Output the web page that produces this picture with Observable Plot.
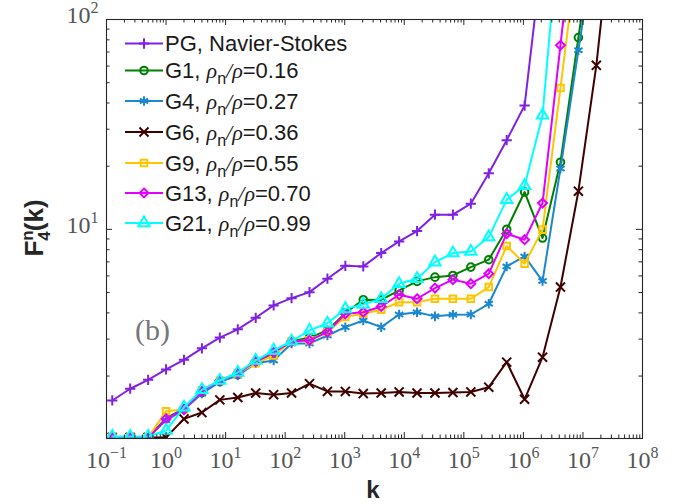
<!DOCTYPE html>
<html>
<head>
<meta charset="utf-8">
<script src="https://cdn.jsdelivr.net/npm/d3@7"></script>
<script src="https://cdn.jsdelivr.net/npm/@observablehq/plot@0.6"></script>
<style>
html,body{margin:0;padding:0;background:#fff;}
#wrap{position:relative;width:684px;height:504px;overflow:hidden;}
#wrap svg{display:block;}
#overlay{position:absolute;left:0;top:0;pointer-events:none;}
</style>
</head>
<body>
<div id="wrap"></div>
<script>
// wave numbers k (each step doubles)
const k = [0.125, 0.25, 0.5, 1, 2, 4, 8, 16, 32, 64, 128, 256, 512, 1024, 2048, 4096,
  8192, 16384, 32768, 65536, 131072, 262144, 524288, 1048576, 2097152, 4194304,
  8388608, 16777216, 33554432];

// F4^n(k) per series (values beyond 100 leave the frame)
const PG  = [1.53, 1.74, 1.92, 2.15, 2.39, 2.71, 3.05, 3.34, 3.79, 4.34, 4.70, 5.02, 5.82,
  6.70, 6.66, 7.71, 8.76, 9.81, 11.75, 11.75, 13.26, 18.5, 26.6, 38.9, 210];
const G1  = [1.02, 1.02, 1.02, 1.26, 1.40, 1.67, 1.88, 2.03, 2.32, 2.56, 2.92, 3.05, 3.30,
  4.00, 4.62, 4.61, 5.12, 5.65, 5.92, 6.03, 6.61, 7.17, 10.0, 15.06, 9.09, 20.9, 82.0, 321];
const G4  = [1.02, 1.02, 1.02, 1.23, 1.38, 1.65, 1.88, 2.01, 2.30, 2.37, 2.86, 2.86, 3.12,
  3.42, 3.68, 3.42, 3.93, 4.03, 3.85, 3.92, 3.93, 4.42, 6.66, 7.43, 5.67, 19.5, 71.4, 260];
const G6  = [1.02, 1.02, 1.02, 1.02, 1.25, 1.34, 1.54, 1.58, 1.66, 1.63, 1.66, 1.84, 1.69,
  1.69, 1.65, 1.66, 1.68, 1.66, 1.66, 1.67, 1.68, 1.77, 2.33, 1.55, 2.46, 5.31, 15.2, 60.5, 370];
const G9  = [1.02, 1.02, 1.02, 1.36, 1.385, 1.71, 1.905, 2.06, 2.30, 2.51, 2.92, 2.96, 3.24,
  3.82, 3.96, 4.14, 4.50, 4.50, 4.67, 4.67, 4.67, 5.31, 8.33, 6.86, 9.97, 47.2, 228];
const G13 = [1.01, 1.01, 1.01, 1.25, 1.385, 1.69, 1.905, 2.06, 2.35, 2.59, 2.92, 2.96, 3.24,
  3.96, 4.03, 4.29, 4.88, 4.67, 5.25, 5.76, 5.51, 6.15, 9.54, 8.93, 13.35, 75.4, 441];
const G21 = [1.03, 1.03, 1.03, 1.10, 1.42, 1.72, 1.905, 2.08, 2.37, 2.65, 2.93, 3.30, 3.57,
  4.18, 4.39, 4.67, 5.51, 5.82, 6.98, 7.71, 7.85, 9.19, 13.86, 16.12, 34.97, 330];

const seriesValues = [PG, G1, G4, G6, G9, G13, G21];
const seriesNames = ["PG, Navier-Stokes", "G1", "G4", "G6", "G9", "G13", "G21"];
const rhoRatios = [null, "0.16", "0.27", "0.36", "0.55", "0.70", "0.99"];
const colors = ["#8022e2", "#008000", "#1b87cf", "#3f0000", "#ffc600", "#e000ff", "#00ffff"];
const symbols = ["plus", "circle", "asterisk", "times", "square", "diamond2", "triangle"];
const radii = [3.4, 3.8, 4.5, 4.2, 3.7, 4.0, 4.2];

const xTickValues = [1e-1, 1e0, 1e1, 1e2, 1e3, 1e4, 1e5, 1e6, 1e7, 1e8];
const yTickValues = [10, 100];
const minorMultipliers = [2, 3, 4, 5, 6, 7, 8, 9];

const W = 684, H = 504, mL = 106, mR = 42, mT = 19, mB = 66;
const pw = W - mL - mR, ph = H - mT - mB;
const axisColor = "#262626";
const majLen = 6, minLen = 3.5;

const xMinor = xTickValues.slice(0, -1).flatMap(v => minorMultipliers.map(m => v * m));
const yMinor = [1, 10].flatMap(v => minorMultipliers.map(m => v * m));

const marks = [];
seriesValues.forEach((vals, i) => {
  const rows = vals.map((v, j) => ({k: k[j], v}));
  marks.push(Plot.line(rows, {x: "k", y: "v", stroke: colors[i], strokeWidth: 2, clip: true}));
  marks.push(Plot.dot(rows, {x: "k", y: "v", symbol: symbols[i], r: radii[i], stroke: colors[i],
    fill: "none", strokeWidth: 2, clip: true}));
});
marks.push(
  Plot.tickX(xTickValues, {x: d => d, stroke: axisColor, insetTop: ph - majLen}),
  Plot.tickX(xTickValues, {x: d => d, stroke: axisColor, insetBottom: ph - majLen}),
  Plot.tickX(xMinor, {x: d => d, stroke: axisColor, insetTop: ph - minLen}),
  Plot.tickX(xMinor, {x: d => d, stroke: axisColor, insetBottom: ph - minLen}),
  Plot.tickY(yTickValues, {y: d => d, stroke: axisColor, insetRight: pw - majLen}),
  Plot.tickY(yTickValues, {y: d => d, stroke: axisColor, insetLeft: pw - majLen}),
  Plot.tickY(yMinor, {y: d => d, stroke: axisColor, insetRight: pw - minLen}),
  Plot.tickY(yMinor, {y: d => d, stroke: axisColor, insetLeft: pw - minLen}),
  Plot.frame({stroke: axisColor, strokeWidth: 1.1}),
  Plot.axisX({ticks: xTickValues, tickSize: 0, tickPadding: 12, label: null,
    tickFormat: d => "10^" + Math.round(Math.log10(d))}),
  Plot.axisY({ticks: yTickValues, tickSize: 0, tickPadding: 8, dy: -4, label: null,
    tickFormat: d => "10^" + Math.round(Math.log10(d))})
);

const chart = Plot.plot({
  width: W, height: H,
  marginLeft: mL, marginRight: mR, marginTop: mT, marginBottom: mB,
  x: {type: "log", domain: [0.1, 1e8]},
  y: {type: "log", domain: [1.008, 100]},
  style: {fontFamily: "'Liberation Serif', serif", fontSize: "24px", background: "#fff", color: axisColor},
  marks
});
document.getElementById("wrap").appendChild(chart);

// superscript exponents on tick labels
const NS = "http://www.w3.org/2000/svg";
chart.querySelectorAll("text").forEach(t => {
  const m = /^10\^(-?\d+)$/.exec(t.textContent);
  if (!m) return;
  t.textContent = "10";
  const ts = document.createElementNS(NS, "tspan");
  ts.setAttribute("dy", "-10");
  ts.setAttribute("font-size", "16px");
  ts.textContent = m[1].replace("-", "\u2212");
  t.appendChild(ts);
  t.setAttribute("fill", "#555");
});

// overlay: legend, axis titles, panel tag
const symTypes = {plus: d3.symbolPlus, circle: d3.symbolCircle, asterisk: d3.symbolAsterisk,
  times: d3.symbolTimes, square: d3.symbolSquare, diamond2: d3.symbolDiamond2, triangle: d3.symbolTriangle};
const ov = d3.select("#wrap").append("svg").attr("id", "overlay").attr("width", W).attr("height", H);
const legendRowY = [43.5, 70.5, 101, 132, 163, 193, 223];
seriesNames.forEach((name, i) => {
  const y = legendRowY[i];
  const g = ov.append("g");
  g.append("line").attr("x1", 125).attr("x2", 163).attr("y1", y).attr("y2", y)
    .attr("stroke", colors[i]).attr("stroke-width", 2);
  g.append("path").attr("d", d3.symbol(symTypes[symbols[i]], Math.PI * radii[i] ** 2)())
    .attr("transform", `translate(144,${y})`).attr("fill", "none")
    .attr("stroke", colors[i]).attr("stroke-width", 2);
  const t = g.append("text").attr("x", 165).attr("y", y + 7.5)
    .attr("font-family", "'Liberation Sans', Arial, sans-serif").attr("font-size", 22).attr("fill", "#1a1a1a");
  if (rhoRatios[i] === null) { t.text(name); return; }
  t.append("tspan").text(name + ", ");
  t.append("tspan").attr("font-family", "'Liberation Serif', serif").attr("font-style", "italic").text("\u03c1");
  t.append("tspan").attr("font-size", 16).attr("dy", 6).text("n");
  t.append("tspan").attr("dy", -6).attr("font-family", "'Liberation Serif', serif").attr("font-style", "italic").text("/\u03c1");
  t.append("tspan").text("=" + rhoRatios[i]);
});

ov.append("text").attr("x", 373).attr("y", 498).attr("text-anchor", "middle")
  .attr("font-family", "'Liberation Sans', Arial, sans-serif").attr("font-weight", "bold")
  .attr("font-size", 24).attr("fill", "#262626").text("k");

const yl = ov.append("text").attr("transform", "translate(43,228) rotate(-90)").attr("text-anchor", "middle")
  .attr("font-family", "'Liberation Sans', Arial, sans-serif").attr("font-weight", "bold")
  .attr("font-size", 26).attr("fill", "#262626");
yl.append("tspan").text("F");
yl.append("tspan").attr("font-size", 17).attr("dy", -10).text("n");
yl.append("tspan").attr("font-size", 17).attr("dx", -10.4).attr("dy", 17).text("4");
yl.append("tspan").attr("dy", -7).text("(k)");

ov.append("text").attr("x", 135).attr("y", 340)
  .attr("font-family", "'Liberation Serif', serif").attr("font-size", 30).attr("fill", "#777").text("(b)");
</script>
</body>
</html>
